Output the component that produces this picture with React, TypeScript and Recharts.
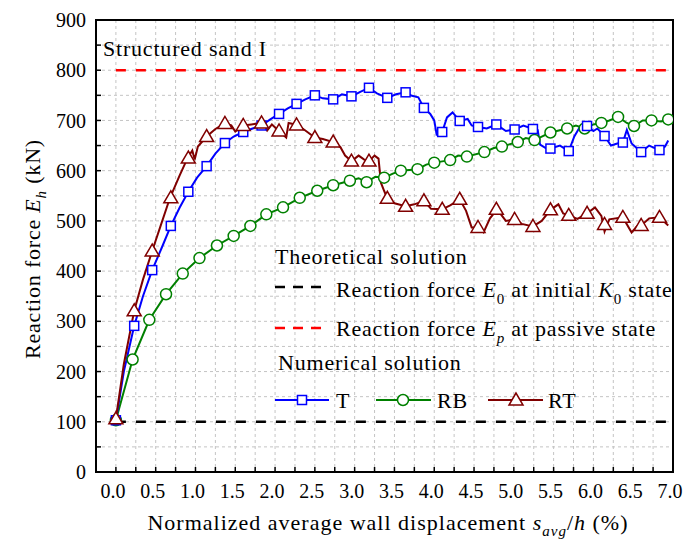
import {
  ComposedChart,
  Line,
  Scatter,
  XAxis,
  YAxis,
  CartesianGrid,
  ReferenceLine,
  ReferenceArea,
  Legend,
} from "recharts"

const FONT =
  "'Liberation Serif', 'Times New Roman', Times, 'DejaVu Serif', 'Liberation Sans', Arial, sans-serif"
const BLUE = "#0000ff"
const GREEN = "#008000"
const RED = "#800000"

const W = 684
const H = 532

const xTicks = [
  0, 0.25, 0.5, 0.75, 1, 1.25, 1.5, 1.75, 2, 2.25, 2.5, 2.75, 3, 3.25, 3.5, 3.75,
  4, 4.25, 4.5, 4.75, 5, 5.25, 5.5, 5.75, 6, 6.25, 6.5, 6.75, 7,
]
const yTicks = [
  0, 50, 100, 150, 200, 250, 300, 350, 400, 450, 500, 550, 600, 650, 700, 750, 800, 850, 900,
]

// theoretical levels (kN)
const e0Level = 100
const epLevel = 800

// T: full curve, then marker positions
const tLine: [number, number][] = [
  [0, 103], [0.1, 200], [0.23, 291], [0.34, 350], [0.456, 402], [0.58, 448], [0.69, 490],
  [0.8, 526], [0.91, 558], [1.02, 586], [1.14, 609], [1.25, 634], [1.37, 655], [1.48, 668],
  [1.6, 677], [1.7, 683], [1.83, 690], [1.94, 702], [2.05, 713], [2.16, 724], [2.27, 733],
  [2.38, 742], [2.5, 750], [2.6, 744], [2.73, 742], [2.84, 752], [2.96, 748], [3.07, 757],
  [3.18, 765], [3.28, 754], [3.41, 745], [3.52, 752], [3.64, 756], [3.72, 749], [3.8, 746],
  [3.87, 725], [3.95, 713], [4.0, 700], [4.03, 672], [4.1, 677], [4.16, 706], [4.23, 716],
  [4.32, 699], [4.42, 703], [4.47, 690], [4.55, 687], [4.66, 684], [4.78, 692], [4.9, 679],
  [5.01, 682], [5.12, 690], [5.24, 683], [5.3, 681], [5.33, 652], [5.4, 645], [5.46, 644],
  [5.58, 650], [5.69, 639], [5.76, 668], [5.84, 690], [5.92, 689], [6.0, 679], [6.05, 684],
  [6.14, 669], [6.22, 650], [6.3, 654], [6.37, 656], [6.42, 681], [6.48, 654], [6.6, 637],
  [6.7, 650], [6.83, 641], [6.9, 648], [6.94, 660],
]
const tMarks: [number, number][] = [
  [0, 103], [0.23, 291], [0.456, 402], [0.69, 490], [0.91, 558], [1.14, 609], [1.37, 655],
  [1.6, 677], [1.83, 690], [2.05, 713], [2.27, 733], [2.5, 750], [2.73, 742], [2.96, 748],
  [3.18, 765], [3.41, 745], [3.64, 756], [3.87, 725], [4.1, 677], [4.32, 699], [4.55, 687],
  [4.78, 692], [5.01, 682], [5.24, 683], [5.46, 644], [5.69, 639], [5.92, 689], [6.14, 669],
  [6.37, 656], [6.6, 637], [6.83, 641],
]

const rbLine: [number, number][] = [
  [0, 103], [0.21, 224], [0.42, 303], [0.63, 354], [0.84, 395], [1.05, 426], [1.27, 451],
  [1.48, 470], [1.69, 490], [1.89, 513], [2.1, 527], [2.31, 546], [2.53, 560], [2.73, 571],
  [2.94, 580], [3.05, 585], [3.15, 577], [3.26, 588], [3.37, 586], [3.48, 594], [3.58, 600],
  [3.79, 603], [3.9, 612], [4.0, 616], [4.2, 621], [4.3, 630], [4.41, 628], [4.63, 637],
  [4.75, 645], [4.85, 648], [5.05, 657], [5.15, 665], [5.26, 661], [5.46, 676], [5.67, 684],
  [5.78, 690], [5.89, 684], [6.0, 692], [6.1, 695], [6.2, 700], [6.31, 707], [6.42, 695],
  [6.51, 689], [6.62, 700], [6.73, 700], [6.85, 698], [6.94, 702],
]
const rbMarks: [number, number][] = [
  [0, 103], [0.21, 224], [0.42, 303], [0.63, 354], [0.84, 395], [1.05, 426], [1.27, 451],
  [1.48, 470], [1.69, 490], [1.89, 513], [2.1, 527], [2.31, 546], [2.53, 560], [2.73, 571],
  [2.94, 580], [3.15, 577], [3.37, 586], [3.58, 600], [3.79, 603], [4.0, 616], [4.2, 621],
  [4.41, 628], [4.63, 637], [4.85, 648], [5.05, 657], [5.26, 661], [5.46, 676], [5.67, 684],
  [5.89, 684], [6.1, 695], [6.31, 707], [6.51, 689], [6.73, 700], [6.94, 702],
]

const rtLine: [number, number][] = [
  [0, 106], [0.1, 215], [0.23, 321], [0.34, 383], [0.456, 440], [0.57, 494], [0.68, 546],
  [0.8, 590], [0.9, 625], [0.96, 640], [0.99, 622], [1.03, 648], [1.14, 668], [1.25, 683],
  [1.37, 694], [1.45, 690], [1.5, 678], [1.6, 690], [1.7, 692], [1.83, 695], [1.9, 680],
  [1.96, 692], [2.05, 679], [2.14, 666], [2.17, 695], [2.28, 691], [2.38, 680], [2.5, 666],
  [2.6, 663], [2.73, 657], [2.82, 647], [2.88, 630], [2.96, 619], [3.05, 630], [3.12, 622],
  [3.18, 619], [3.25, 630], [3.3, 624], [3.33, 576], [3.37, 560], [3.41, 545], [3.5, 535],
  [3.64, 529], [3.75, 533], [3.87, 540], [3.96, 524], [4.1, 523], [4.2, 531], [4.32, 543],
  [4.4, 520], [4.47, 487], [4.55, 487], [4.62, 477], [4.7, 505], [4.79, 523], [4.9, 500],
  [5.01, 503], [5.1, 494], [5.24, 489], [5.35, 500], [5.46, 522], [5.56, 533], [5.62, 515],
  [5.69, 511], [5.8, 504], [5.92, 515], [6.02, 527], [6.1, 510], [6.14, 479], [6.2, 503],
  [6.37, 507], [6.48, 477], [6.55, 490], [6.6, 491], [6.7, 505], [6.83, 507], [6.94, 491],
]
const rtMarks: [number, number][] = [
  [0, 106], [0.23, 321], [0.456, 440], [0.69, 546], [0.91, 625], [1.14, 668], [1.37, 694],
  [1.6, 690], [1.83, 695], [2.05, 679], [2.27, 691], [2.5, 666], [2.73, 657], [2.96, 619],
  [3.18, 619], [3.41, 545], [3.64, 529], [3.87, 540], [4.1, 523], [4.32, 543], [4.55, 487],
  [4.78, 523], [5.01, 503], [5.24, 489], [5.46, 522], [5.69, 511], [5.92, 515], [6.14, 493],
  [6.37, 507], [6.6, 491], [6.83, 507],
]

const toPoints = (pairs: [number, number][]) => pairs.map(([x, y]) => ({ x, y }))

const square = (color: string) => (props: any) => (
  <rect x={props.cx - 4.5} y={props.cy - 4.5} width={9} height={9} fill="#fff" stroke={color} strokeWidth={1.5} />
)
const circle = (color: string) => (props: any) => (
  <circle cx={props.cx} cy={props.cy} r={5.5} fill="#fff" stroke={color} strokeWidth={1.5} />
)
const triangle = (color: string) => (props: any) => (
  <polygon
    points={`${props.cx},${props.cy - 7} ${props.cx - 7},${props.cy + 5} ${props.cx + 7},${props.cy + 5}`}
    fill="#fff"
    stroke={color}
    strokeWidth={1.5}
  />
)

const xTickStyle = { fontFamily: FONT, fontSize: 20, fill: "#000", dx: -3 }
const yTickStyle = { fontFamily: FONT, fontSize: 20, fill: "#000" }
const textStyle = { fontFamily: FONT }

function XTitle() {
  return (
    <text x={380} y={522} textAnchor="middle" style={textStyle} fontSize={22} letterSpacing={1} fill="#000">
      Normalized average wall displacement{"  "}
      <tspan fontStyle="italic">s</tspan>
      <tspan fontStyle="italic" fontSize={15} dy={6}>avg</tspan>
      <tspan dy={-6}>/</tspan>
      <tspan fontStyle="italic">h</tspan>
      <tspan> (%)</tspan>
    </text>
  )
}

function YTitle() {
  return (
    <text
      x={0}
      y={0}
      transform="translate(32, 241) rotate(-90)"
      textAnchor="middle"
      style={textStyle}
      fontSize={22}
      letterSpacing={0.8}
      fill="#000"
    >
      Reaction force <tspan fontStyle="italic">E</tspan>
      <tspan fontStyle="italic" fontSize={15} dy={6}>h</tspan>
      <tspan dy={-6}> (kN)</tspan>
    </text>
  )
}

function Overlay() {
  const t = { style: textStyle, fontSize: 22, fill: "#000", letterSpacing: 0.8 }
  return (
    <svg width={W} height={H} style={{ overflow: "visible", fontFamily: FONT }}>
      <text x={95} y={48} {...t}>Structured sand I</text>

      <text x={267} y={256} {...t}>Theoretical solution</text>
      <line x1={267} x2={314} y1={279} y2={279} stroke="#000" strokeWidth={2.5} strokeDasharray="10 8" />
      <text x={328} y={289} {...t}>
        Reaction force <tspan fontStyle="italic">E</tspan>
        <tspan fontSize={15} dy={7}>0</tspan>
        <tspan dy={-7}> at initial </tspan>
        <tspan fontStyle="italic">K</tspan>
        <tspan fontSize={15} dy={7}>0</tspan>
        <tspan dy={-7}> state</tspan>
      </text>
      <line x1={267} x2={314} y1={320} y2={320} stroke="#ff0000" strokeWidth={2.5} strokeDasharray="10 8" />
      <text x={328} y={328} {...t}>
        Reaction force <tspan fontStyle="italic">E</tspan>
        <tspan fontStyle="italic" fontSize={15} dy={7}>p</tspan>
        <tspan dy={-7}> at passive state</tspan>
      </text>

      <text x={270} y={362} {...t}>Numerical solution</text>
      <line x1={267} x2={321} y1={392} y2={392} stroke={BLUE} strokeWidth={2} />
      <rect x={289.5} y={387.5} width={9} height={9} fill="#fff" stroke={BLUE} strokeWidth={1.5} />
      <text x={328} y={400} {...t}>T</text>
      <line x1={368} x2={423} y1={392} y2={392} stroke={GREEN} strokeWidth={2} />
      <circle cx={395} cy={392} r={5.5} fill="#fff" stroke={GREEN} strokeWidth={1.5} />
      <text x={429} y={400} {...t}>RB</text>
      <line x1={480} x2={535} y1={392} y2={392} stroke={RED} strokeWidth={2} />
      <polygon points="508,385 501,397 515,397" fill="#fff" stroke={RED} strokeWidth={1.5} />
      <text x={540} y={400} {...t}>RT</text>
    </svg>
  )
}

export default function App() {
  return (
    <div style={{ fontFamily: FONT }}>
      <ComposedChart width={W} height={H} margin={{ top: 12, right: 19, bottom: 28, left: 28 }}>
        <CartesianGrid stroke="#c4c4c4" strokeDasharray="3 3" />
        <XAxis
          dataKey="x"
          type="number"
          domain={[-0.25, 7]}
          allowDataOverflow
          ticks={xTicks}
          interval={0}
          height={40}
          tickSize={-5}
          tickMargin={17}
          tick={xTickStyle}
          tickFormatter={(v: number) => (Number.isInteger(v * 2) ? v.toFixed(1) : "")}
          axisLine={{ stroke: "#000", strokeWidth: 2 }}
          tickLine={{ stroke: "#000", strokeWidth: 1.5 }}
          label={{ content: XTitle }}
        />
        <YAxis
          type="number"
          domain={[0, 900]}
          allowDataOverflow
          ticks={yTicks}
          interval={0}
          width={60}
          tickSize={-5}
          tickMargin={15}
          tick={yTickStyle}
          tickFormatter={(v: number) => (v % 100 === 0 ? String(v) : "")}
          axisLine={{ stroke: "#000", strokeWidth: 2 }}
          tickLine={{ stroke: "#000", strokeWidth: 1.5 }}
          label={{ content: YTitle }}
        />
        <YAxis
          yAxisId="right"
          orientation="right"
          type="number"
          domain={[0, 900]}
          ticks={yTicks}
          interval={0}
          width={0}
          tickSize={-5}
          tick={false}
          axisLine={false}
          tickLine={{ stroke: "#000", strokeWidth: 1.5 }}
        />
        <ReferenceArea x1={-0.25} x2={7} y1={0} y2={900} fill="none" stroke="#000" strokeWidth={2} ifOverflow="visible" />
        <ReferenceLine
          segment={[{ x: 0, y: e0Level }, { x: 7, y: e0Level }]}
          stroke="#000"
          strokeWidth={2.5}
          strokeDasharray="10 10"
        />
        <ReferenceLine
          segment={[{ x: 0, y: epLevel }, { x: 7, y: epLevel }]}
          stroke="#ff0000"
          strokeWidth={2.5}
          strokeDasharray="10 10"
        />
        <Line data={toPoints(rbLine)} dataKey="y" stroke={GREEN} strokeWidth={2} dot={false} isAnimationActive={false} legendType="none" />
        <Line data={toPoints(tLine)} dataKey="y" stroke={BLUE} strokeWidth={2} dot={false} isAnimationActive={false} legendType="none" />
        <Line data={toPoints(rtLine)} dataKey="y" stroke={RED} strokeWidth={2} dot={false} isAnimationActive={false} legendType="none" />
        <Scatter data={toPoints(rbMarks)} dataKey="y" shape={circle(GREEN)} isAnimationActive={false} legendType="none" />
        <Scatter data={toPoints(tMarks)} dataKey="y" shape={square(BLUE)} isAnimationActive={false} legendType="none" />
        <Scatter data={toPoints(rtMarks)} dataKey="y" shape={triangle(RED)} isAnimationActive={false} legendType="none" />
        <Legend
          verticalAlign="middle"
          align="center"
          layout="horizontal"
          wrapperStyle={{ position: "absolute", left: 0, top: 0, width: W, height: H, pointerEvents: "none" }}
          content={() => <Overlay />}
        />
      </ComposedChart>
    </div>
  )
}
